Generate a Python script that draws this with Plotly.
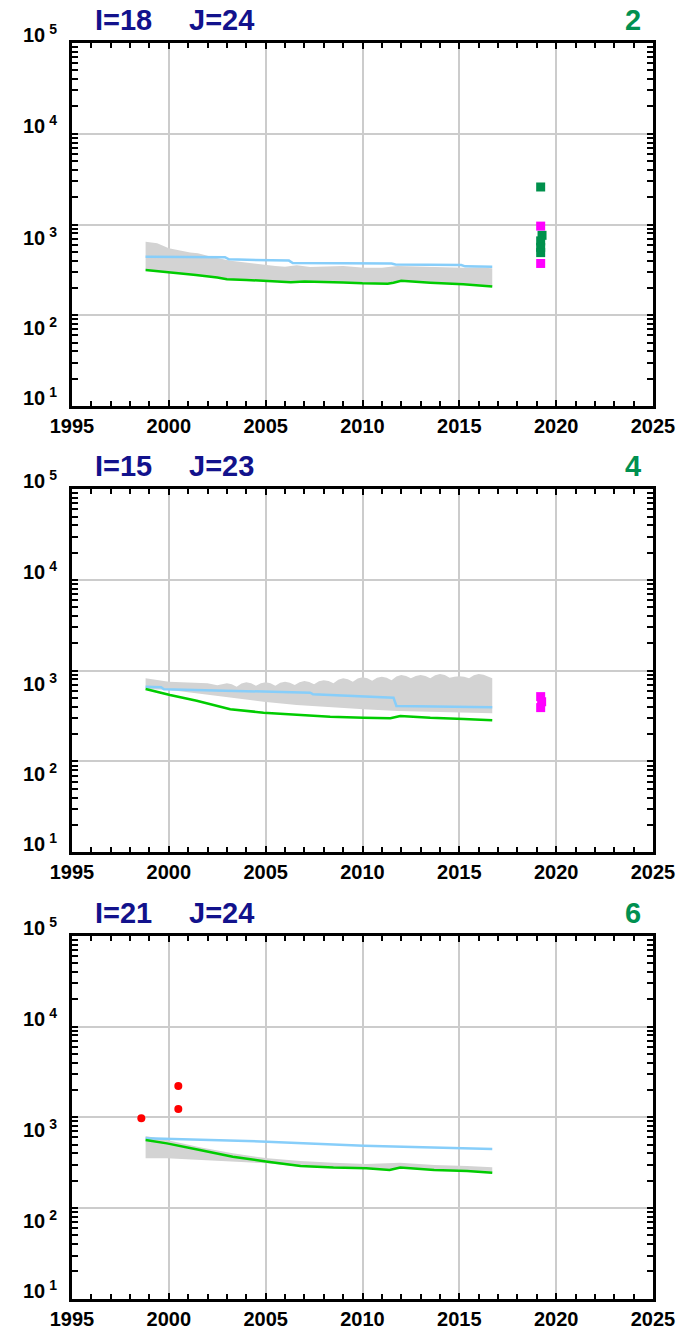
import math
import plotly.graph_objects as go

# ---------------- data ----------------
# Panel 1 (I=18 J=24)
p1_blue_t = [1998.8, 2002.9, 2003.1, 2004.8, 2005.0, 2006.2, 2006.4, 2011.5, 2011.7, 2015.1, 2015.3, 2016.7]
p1_blue_v = [441, 436, 413, 410, 403, 400, 376, 372, 362, 358, 346, 343]
p1_green_t = [1998.8, 1999.5, 2000.0, 2000.5, 2001.4, 2002.5, 2003.0, 2004.0, 2004.9, 2006.3, 2007.0,
              2008.3, 2009.0, 2010.0, 2011.3, 2011.6, 2012.0, 2013.5, 2015.2, 2016.7]
p1_green_v = [315, 305, 297, 292, 278, 260, 249, 245, 238, 231, 236, 234, 229, 225, 223, 228, 240, 228, 219, 207]
p1_up_t = [1998.8, 1999.4, 2000.0, 2001.1, 2001.5, 2002.3, 2003.2, 2004.0, 2004.9, 2005.5, 2006.0, 2006.6,
           2007.3, 2008.3, 2009.0, 2010.1, 2011.0, 2011.8, 2012.5, 2013.5, 2014.3, 2015.2, 2016.0, 2016.7]
p1_up_v = [647, 621, 547, 490, 482, 436, 399, 380, 364, 350, 343, 356, 340, 345, 348, 334, 333, 349, 345,
           340, 335, 333, 336, 329]
p1_low_t = p1_green_t
p1_low_v = p1_green_v
p1_sq_green_t = [2019.2, 2019.27, 2019.2, 2019.2, 2019.2]
p1_sq_green_v = [2590, 760, 660, 560, 490]
p1_sq_mag_t = [2019.2, 2019.2]
p1_sq_mag_v = [960, 372]

# Panel 2 (I=15 J=23)
p2_blue_t = [1998.8, 1999.6, 1999.75, 2007.3, 2007.45, 2011.6, 2011.75, 2016.7]
p2_blue_v = [667, 656, 624, 573, 550, 505, 408, 395]
p2_green_t = [1998.8, 2000.06, 2001.44, 2003.17, 2004.89, 2006.6, 2008.33, 2010.06, 2011.44, 2011.95,
              2013.5, 2015.22, 2016.7]
p2_green_v = [629, 540, 467, 376, 345, 325, 311, 303, 299, 317, 303, 294, 284]
p2_up_t = [1998.8, 1999.5, 2000.0, 2001.0, 2002.0, 2002.5,
           2003.0, 2003.25, 2003.5, 2003.75, 2004.0, 2004.25, 2004.5, 2004.75,
           2005.0, 2005.25, 2005.5, 2005.75, 2006.0, 2006.25, 2006.5, 2006.75,
           2007.0, 2007.25, 2007.5, 2007.75, 2008.0, 2008.25, 2008.5, 2008.75,
           2009.0, 2009.25, 2009.5, 2009.75, 2010.0, 2010.25, 2010.5, 2010.75,
           2011.0, 2011.25, 2011.5, 2011.75, 2012.0, 2012.25, 2012.5, 2012.75,
           2013.0, 2013.25, 2013.5, 2013.75, 2014.0, 2014.25, 2014.5, 2014.75,
           2015.0, 2015.25, 2015.5, 2015.75, 2016.0, 2016.25, 2016.5, 2016.7]
p2_up_v = [824, 790, 757, 740, 726, 690,
           726, 708, 667, 722, 745, 727, 684, 727,
           745, 727, 684, 735, 757, 738, 695, 746,
           768, 750, 708, 763, 787, 769, 726, 795,
           824, 804, 757, 819, 845, 824, 776, 835,
           860, 838, 787, 864, 897, 875, 824, 875,
           897, 875, 824, 891, 920, 895, 838, 860,
           870, 856, 824, 891, 920, 902, 860, 824]
p2_low_t = [1998.8, 2000.06, 2001.44, 2003.17, 2004.89, 2006.6, 2008.33, 2010.06, 2011.8, 2013.5, 2015.22, 2016.7]
p2_low_v = [629, 612, 564, 505, 455, 419, 395, 376, 360, 351, 345, 339]
p2_sq_mag_t = [2019.2, 2019.25, 2019.2]
p2_sq_mag_v = [518, 455, 392]

# Panel 3 (I=21 J=24)
p3_blue_t = [1998.8, 2005.06, 2010.06, 2014.96, 2016.7]
p3_blue_v = [587, 539, 486, 455, 448]
p3_green_t = [1998.8, 1999.9, 2001.6, 2003.3, 2005.1, 2006.8, 2008.5, 2010.2, 2011.4, 2011.95, 2013.7, 2015.4, 2016.7]
p3_green_v = [563, 516, 436, 368, 324, 291, 279, 274, 263, 279, 263, 256, 245]
p3_up_t = [1998.8, 1999.9, 2001.6, 2003.3, 2005.1, 2006.8, 2008.5, 2010.2, 2011.95, 2013.7, 2015.4, 2016.7]
p3_up_v = [622, 563, 467, 401, 353, 330, 316, 306, 316, 298, 291, 281]
p3_low_t = [1998.8, 1999.9, 2001.6, 2003.3, 2005.1, 2006.8, 2008.5, 2010.2, 2011.4, 2011.95, 2013.7, 2015.4, 2016.7]
p3_low_v = [353, 353, 338, 324, 311, 286, 274, 270, 263, 275, 263, 256, 245]
p3_dot_t = [1998.58, 2000.49, 2000.49]
p3_dot_v = [975, 2208, 1233]

titles_left = [("I=18", "J=24"), ("I=15", "J=23"), ("I=21", "J=24")]
titles_right = ["2", "4", "6"]

x_range = [1995, 2025]
x_major_step = 5
y_decades = [10, 100, 1000, 10000, 100000]
y_labels = ["10<sup> 1</sup>", "10<sup> 2</sup>", "10<sup> 3</sup>", "10<sup> 4</sup>", "10<sup> 5</sup>"]
y_label_shift = [-5, -26, -26, -5, -5]   # pixel offset of each label, as placed in the original

# ---------------- styling ----------------
W, H = 700, 1333
OFF = 8  # page body margin offset
ML, MR = 72 - OFF, 700 - 653 + OFF
FONT = "Liberation Sans, Arial, sans-serif"
BLUE = "#87CEFA"
GREEN = "#00CC00"
GRAY = "#D3D3D3"
GRID = "#CCCCCC"
SQ_GREEN = "#00904C"
MAGENTA = "#FF00FF"
RED = "#FF0000"
NAVY = "#12128C"
NUMGREEN = "#009050"

panels_px = [(43, 406), (489.2, 852.2), (935.8, 1298.8)]

fig = go.Figure()

panels = [
    dict(up=(p1_up_t, p1_up_v), low=(p1_low_t, p1_low_v), blue=(p1_blue_t, p1_blue_v),
         green=(p1_green_t, p1_green_v),
         markers=[(p1_sq_green_t, p1_sq_green_v, SQ_GREEN, "square", 9),
                  (p1_sq_mag_t, p1_sq_mag_v, MAGENTA, "square", 9)]),
    dict(up=(p2_up_t, p2_up_v), low=(p2_low_t, p2_low_v), blue=(p2_blue_t, p2_blue_v),
         green=(p2_green_t, p2_green_v),
         markers=[(p2_sq_mag_t, p2_sq_mag_v, MAGENTA, "square", 9)]),
    dict(up=(p3_up_t, p3_up_v), low=(p3_low_t, p3_low_v), blue=(p3_blue_t, p3_blue_v),
         green=(p3_green_t, p3_green_v),
         markers=[(p3_dot_t, p3_dot_v, RED, "circle", 8)]),
]

for i, p in enumerate(panels):
    xa = "x" if i == 0 else f"x{i+1}"
    ya = "y" if i == 0 else f"y{i+1}"
    ut, uv = p["up"]
    lt, lv = p["low"]
    fig.add_trace(go.Scatter(x=list(ut) + list(lt)[::-1], y=list(uv) + list(lv)[::-1],
                             fill="toself", fillcolor=GRAY, line=dict(width=0), mode="lines",
                             xaxis=xa, yaxis=ya, hoverinfo="skip", showlegend=False))
    fig.add_trace(go.Scatter(x=p["blue"][0], y=p["blue"][1], mode="lines",
                             line=dict(color=BLUE, width=2.5), xaxis=xa, yaxis=ya, showlegend=False))
    fig.add_trace(go.Scatter(x=p["green"][0], y=p["green"][1], mode="lines",
                             line=dict(color=GREEN, width=2.5), xaxis=xa, yaxis=ya, showlegend=False))
    for (mt, mv, col, sym, sz) in p["markers"]:
        fig.add_trace(go.Scatter(x=mt, y=mv, mode="markers",
                                 marker=dict(color=col, symbol=sym, size=sz, line=dict(width=0)),
                                 xaxis=xa, yaxis=ya, showlegend=False))

layout = dict(width=W, height=H, margin=dict(l=ML, r=MR, t=0, b=0),
              paper_bgcolor="white", plot_bgcolor="white", showlegend=False,
              font=dict(family=FONT, color="black"))

plot_w = W - ML - MR
annotations = []
for i, (top, bot) in enumerate(panels_px):
    dom = [1 - (bot - OFF) / H, 1 - (top - OFF) / H]
    xk = "xaxis" if i == 0 else f"xaxis{i+1}"
    yk = "yaxis" if i == 0 else f"yaxis{i+1}"
    ya = "y" if i == 0 else f"y{i+1}"
    xa = "x" if i == 0 else f"x{i+1}"
    layout[xk] = dict(domain=[0, 1], anchor=ya, range=x_range,
                      tick0=x_range[0], dtick=x_major_step,
                      ticks="inside", ticklen=6, tickwidth=2, tickcolor="black",
                      showline=True, linecolor="black", linewidth=2.5, mirror="ticks",
                      showgrid=True, gridcolor=GRID, gridwidth=2, zeroline=False,
                      tickfont=dict(family=FONT, size=20, color="black", weight="bold"),
                      minor=dict(dtick=1, ticks="inside", ticklen=5, tickwidth=2, tickcolor="black"))
    layout[yk] = dict(domain=dom, anchor=xa, type="log",
                      range=[math.log10(y_decades[0]), math.log10(y_decades[-1])],
                      dtick=1, showticklabels=False,
                      ticks="inside", ticklen=6, tickwidth=2, tickcolor="black",
                      showline=True, linecolor="black", linewidth=2.5, mirror="ticks",
                      showgrid=True, gridcolor=GRID, gridwidth=2, zeroline=False,
                      minor=dict(dtick="D1", ticks="inside", ticklen=6, tickwidth=2, tickcolor="black"))
    for val, lab, sh in zip(y_decades, y_labels, y_label_shift):
        annotations.append(dict(text=f"<b>{lab}</b>", x=(59 - 72) / plot_w, y=math.log10(val),
                                xref="paper", yref=ya, xanchor="right", yanchor="bottom", yshift=sh,
                                showarrow=False, font=dict(family=FONT, size=20, color="black")))
    ybase = 1 - (top - 5 - OFF) / H
    a, b = titles_left[i]
    annotations.append(dict(text=f"<b>{a}</b>", x=(93 - 72) / plot_w, y=ybase, xref="paper", yref="paper",
                            xanchor="left", yanchor="bottom", showarrow=False,
                            font=dict(family=FONT, size=29, color=NAVY)))
    annotations.append(dict(text=f"<b>{b}</b>", x=(187 - 72) / plot_w, y=ybase, xref="paper", yref="paper",
                            xanchor="left", yanchor="bottom", showarrow=False,
                            font=dict(family=FONT, size=29, color=NAVY)))
    annotations.append(dict(text=f"<b>{titles_right[i]}</b>", x=(643 - 72) / plot_w, y=ybase,
                            xref="paper", yref="paper", xanchor="right", yanchor="bottom",
                            showarrow=False, font=dict(family=FONT, size=29, color=NUMGREEN)))

layout["annotations"] = annotations
fig.update_layout(**layout)
fig.write_html("out.html")
